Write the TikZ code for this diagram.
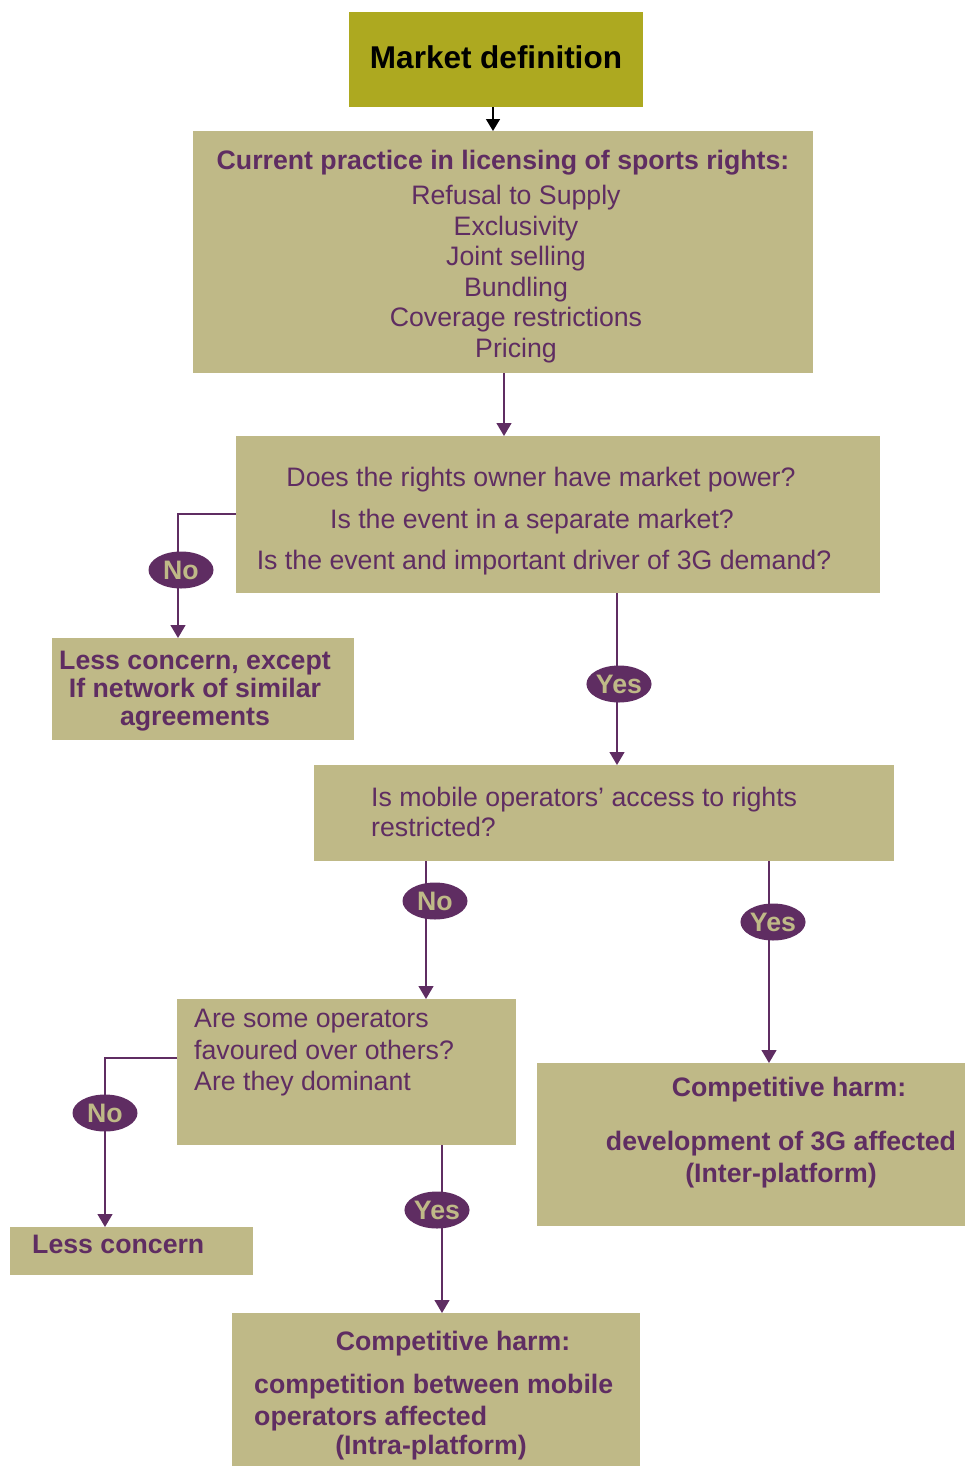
\documentclass[tikz,border=0pt]{standalone}
\usepackage{fontspec}
\setmainfont{Liberation Sans}
\usetikzlibrary{arrows.meta,shapes.geometric}
\definecolor{olivebox}{HTML}{ADA920}
\definecolor{tanbox}{HTML}{BFB987}
\definecolor{plum}{HTML}{5F2D62}
\tikzset{
  box/.style={fill=tanbox, draw=none, inner sep=0pt, outer sep=0pt, anchor=north west},
  txt/.style={text=plum, inner sep=0pt, font=\fontsize{26.7}{30.5}\selectfont},
  btxt/.style={text=plum, inner sep=0pt, font=\fontsize{26.7}{30.5}\selectfont\bfseries},
  ell/.style={ellipse, fill=plum, draw=none, minimum width=65pt, minimum height=37pt, inner sep=0pt, text=tanbox, font=\fontsize{26.7}{30}\selectfont\bfseries},
  arr/.style={draw=plum, line width=1.3pt, -{Triangle[width=15pt,length=13pt]}},
  barr/.style={draw=black, line width=1.5pt, -{Triangle[width=14pt,length=12pt]}}
}
\begin{document}
\begin{tikzpicture}[x=1pt,y=-1pt]
\useasboundingbox (0,0) rectangle (965,1467);
% boxes
\node[box, fill=olivebox, minimum width=294pt, minimum height=95pt] (md) at (349,12) {};
\node[box, minimum width=620pt, minimum height=242pt] (cp) at (193,131) {};
\node[box, minimum width=644pt, minimum height=157pt] (q) at (236,436) {};
\node[box, minimum width=302pt, minimum height=102pt] (lc) at (52,638) {};
\node[box, minimum width=580pt, minimum height=96pt] (mo) at (314,765) {};
\node[box, minimum width=339pt, minimum height=146pt] (as) at (177,999) {};
\node[box, minimum width=428pt, minimum height=163pt] (ci) at (537,1063) {};
\node[box, minimum width=243pt, minimum height=48pt] (ln) at (10,1227) {};
\node[box, minimum width=408pt, minimum height=153pt] (ca) at (232,1313) {};
% texts
\node[inner sep=0pt, font=\fontsize{31.5}{34}\selectfont\bfseries] (mdt) at (496,57) {Market definition};
\node[btxt] (cph) at (503,163) {Current practice in licensing of sports rights:};
\node[txt, align=center] (cpl) at (516,274) {Refusal to Supply\\Exclusivity\\Joint selling\\Bundling\\Coverage restrictions\\Pricing};
\node[txt] (q1) at (541,480) {Does the rights owner have market power?};
\node[txt] (q2) at (532,522) {Is the event in a separate market?};
\node[txt] (q3) at (544,563) {Is the event and important driver of 3G demand?};
\node[btxt, align=center, font=\fontsize{26.7}{28}\selectfont\bfseries] (lct) at (195,691) {Less concern, except\\If network of similar\\agreements};
\node[txt, align=left, anchor=west] (mot) at (371,812) {Is mobile operators’ access to rights\\restricted?};
\node[txt, align=left, anchor=west, font=\fontsize{26.7}{31.5}\selectfont] (ast) at (194,1053) {Are some operators\\favoured over others?\\Are they dominant};
\node[btxt] (ci1) at (789,1090) {Competitive harm:};
\node[btxt] (ci2) at (781,1144) {development of 3G affected};
\node[btxt] (ci3) at (781,1176) {(Inter-platform)};
\node[btxt, anchor=west] (lnt) at (32,1244) {Less concern};
\node[btxt] (ca1) at (453,1344) {Competitive harm:};
\node[btxt, anchor=west] (ca2) at (254,1387) {competition between mobile};
\node[btxt, anchor=west] (ca3) at (254,1419) {operators affected};
\node[btxt] (ca4) at (431,1448) {(Intra-platform)};
% connectors
\draw[barr] (md.south -| 493,0) -- (cp.north -| 493,0);
\draw[arr] (cp.south -| 504,0) -- (q.north -| 504,0);
\draw[arr] (q.west |- 0,514) -| (lc.north -| 178,0);
\draw[arr] (q.south -| 617,0) -- (mo.north -| 617,0);
\draw[arr] (mo.south -| 426,0) -- (as.north -| 426,0);
\draw[arr] (mo.south -| 769,0) -- (ci.north -| 769,0);
\draw[arr] (as.west |- 0,1058) -| (ln.north -| 105,0);
\draw[arr] (as.south -| 442,0) -- (ca.north -| 442,0);
% labels
\node[ell] (n1) at (181,570) {No};
\node[ell] (y1) at (619,684) {Yes};
\node[ell] (n2) at (435,901) {No};
\node[ell] (y2) at (773,922) {Yes};
\node[ell] (n3) at (105,1113) {No};
\node[ell] (y3) at (437,1210) {Yes};
\end{tikzpicture}
\end{document}
